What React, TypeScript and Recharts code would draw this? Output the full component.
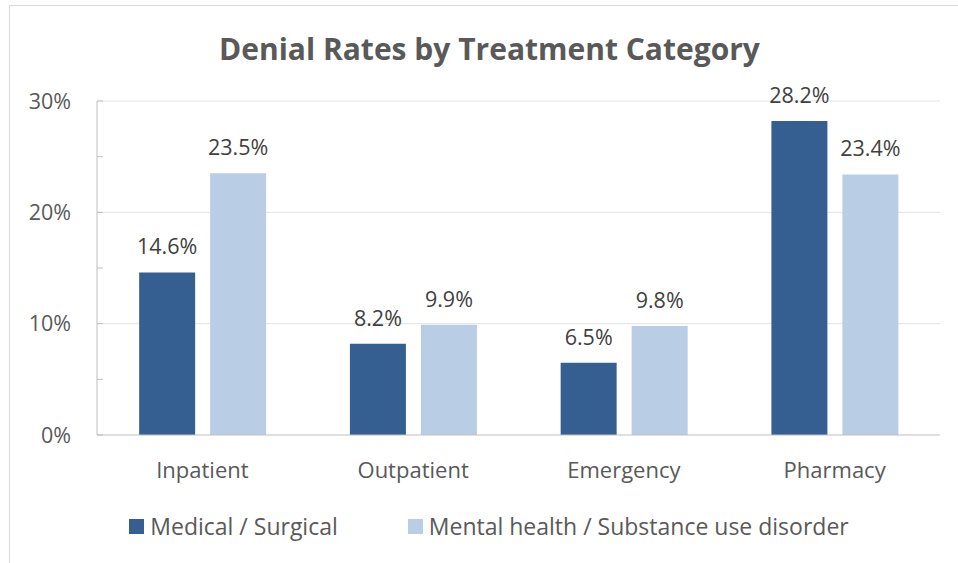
import { BarChart, Bar, XAxis, YAxis, CartesianGrid, Legend, LabelList } from 'recharts';

const categories = ['Inpatient', 'Outpatient', 'Emergency', 'Pharmacy'];
const medicalSurgical = [14.6, 8.2, 6.5, 28.2];
const mentalHealth = [23.5, 9.9, 9.8, 23.4];
const yTicks = [0, 5, 10, 15, 20, 25, 30];
const gridValues = [10, 20, 30];
const seriesNames = ['Medical / Surgical', 'Mental health / Substance use disorder'];
const seriesColors = ['#355F91', '#B9CDE5'];

const data = categories.map((category, i) => ({
  category,
  medical: medicalSurgical[i],
  mental: mentalHealth[i],
}));

const FONT = '"Open Sans", "Noto Sans", sans-serif';
const AXIS = '#BFBFBF';

function YTick({ x, y, payload }: any) {
  const major = payload.value % 10 === 0;
  return (
    <g>
      <line x1={x} x2={x + 6} y1={y} y2={y} stroke={AXIS} />
      {major && (
        <text x={x - 26} y={y} dy="0.35em" textAnchor="end" fill="#595959" fontSize={21.5} fontFamily={FONT}>
          {payload.value}%
        </text>
      )}
    </g>
  );
}

function LegendContent() {
  return (
    <div style={{ display: 'flex', justifyContent: 'center', alignItems: 'center', gap: 70, fontFamily: FONT, fontSize: 23, color: '#595959' }}>
      {seriesNames.map((name, i) => (
        <div key={name} style={{ display: 'flex', alignItems: 'center', gap: 6 }}>
          <span style={{ width: 15, height: 15, background: seriesColors[i], display: 'inline-block' }} />
          <span>{name}</span>
        </div>
      ))}
    </div>
  );
}

export default function App() {
  return (
    <div style={{ position: 'absolute', left: 0, top: 0, width: 958, height: 563, overflow: 'hidden', background: '#fff' }}>
      <div style={{ position: 'absolute', left: 9, top: 5, width: 961, height: 600, borderTop: '1px solid #D9D9D9', borderLeft: '1px solid #D9D9D9' }} />
      <div style={{ position: 'absolute', left: 9, top: 29, width: 961, textAlign: 'center', fontFamily: FONT, fontWeight: 700, fontSize: 30, color: '#595959', lineHeight: '40px' }}>
        Denial Rates by Treatment Category
      </div>
      <div style={{ position: 'absolute', left: 0, top: 0 }}>
        <BarChart width={958} height={563} data={data} margin={{ top: 101, right: 18, left: 0, bottom: 68 }} barCategoryGap="20%" barGap={15}>
          <CartesianGrid vertical={false} horizontalValues={gridValues} stroke="#E3E3E3" />
          <XAxis dataKey="category" height={60} tickLine={false} axisLine={{ stroke: AXIS }} tickMargin={21} tick={{ fill: '#595959', fontSize: 22, fontFamily: FONT }} />
          <YAxis width={97} domain={[0, 30]} ticks={yTicks} interval={0} tickSize={0} tickMargin={0} tickLine={false} axisLine={{ stroke: AXIS }} tick={<YTick />} />
          <Legend verticalAlign="middle" align="center" layout="horizontal" wrapperStyle={{ top: 510, left: 0, width: 978 }} content={<LegendContent />} />
          <Bar dataKey="medical" name={seriesNames[0]} fill={seriesColors[0]} isAnimationActive={false}>
            <LabelList dataKey="medical" position="top" offset={18} formatter={(v: any) => `${v}%`} fill="#404040" fontSize={21.5} fontFamily={FONT} />
          </Bar>
          <Bar dataKey="mental" name={seriesNames[1]} fill={seriesColors[1]} isAnimationActive={false}>
            <LabelList dataKey="mental" position="top" offset={18} formatter={(v: any) => `${v}%`} fill="#404040" fontSize={21.5} fontFamily={FONT} />
          </Bar>
        </BarChart>
      </div>
    </div>
  );
}
